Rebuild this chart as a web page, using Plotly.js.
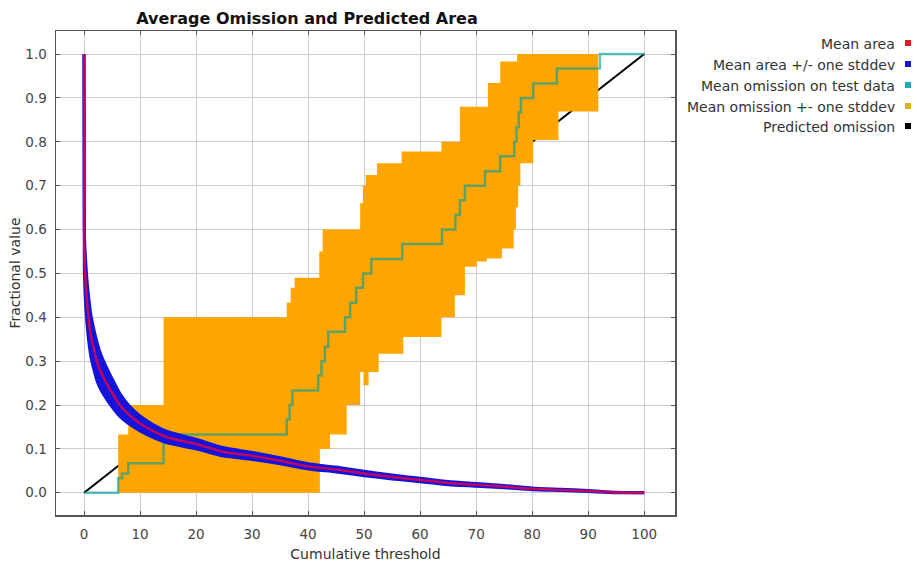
<!DOCTYPE html>
<html>
<head>
<meta charset="utf-8">
<script src="https://cdn.plot.ly/plotly-3.0.1.min.js"></script>
<style>html,body{margin:0;padding:0;background:#fff;}#chart{width:917px;height:565px;}</style>
</head>
<body>
<div id="chart"></div>
<script>
// ---- data ----
// Mean fractional predicted area vs cumulative threshold
const areaX     = [0, 0.05, 0.2, 0.5, 0.8, 1.2, 1.7, 2.3, 3, 4, 5, 6.4, 8, 10, 12, 15, 20, 25, 30, 35, 40, 45, 50, 55, 60, 65, 70, 75, 80, 85, 90, 95, 100];
const areaMean  = [1.0, 0.56, 0.5, 0.44, 0.40, 0.36, 0.33, 0.30, 0.275, 0.25, 0.228, 0.2, 0.178, 0.158, 0.143, 0.126, 0.111, 0.093, 0.084, 0.073, 0.060, 0.053, 0.044, 0.036, 0.029, 0.022, 0.018, 0.014, 0.009, 0.0065, 0.004, 0.0005, 0.0];
const areaUpper = [1.0, 0.605, 0.55, 0.49, 0.45, 0.408, 0.376, 0.344, 0.315, 0.286, 0.26, 0.226, 0.199, 0.175, 0.158, 0.139, 0.122, 0.1025, 0.092, 0.080, 0.066, 0.0585, 0.049, 0.0405, 0.033, 0.0255, 0.021, 0.0165, 0.011, 0.008, 0.0052, 0.0009, 0.0];
const areaLower = [1.0, 0.515, 0.45, 0.39, 0.35, 0.312, 0.284, 0.256, 0.235, 0.214, 0.196, 0.174, 0.157, 0.141, 0.128, 0.113, 0.100, 0.0835, 0.076, 0.066, 0.054, 0.0475, 0.039, 0.0315, 0.025, 0.0185, 0.015, 0.0115, 0.007, 0.005, 0.0028, 0.0001, 0.0];

// Mean omission on test data (step function)
const omissionX    = [0, 6.1, 6.8, 7.9, 14.2, 36.2, 36.7, 37.2, 41.8, 42.4, 43.0, 43.6, 46.6, 47.5, 48.6, 49.8, 51.3, 56.8, 63.9, 66.3, 67.1, 68.0, 71.6, 74.3, 76.8, 77.2, 77.6, 78.0, 80.2, 84.4, 92.1, 100];
const omissionMean = [0, 0.033, 0.044, 0.067, 0.133, 0.167, 0.2, 0.233, 0.267, 0.3, 0.333, 0.367, 0.4, 0.433, 0.467, 0.5, 0.533, 0.567, 0.6, 0.633, 0.667, 0.7, 0.733, 0.767, 0.8, 0.833, 0.867, 0.9, 0.933, 0.967, 1.0, 1.0];

// Mean omission +- one stddev (upper / lower step edges)
const omUpperX = [6.1, 7.9, 14.2, 36.2, 36.9, 37.6, 42.0, 42.6, 49.3, 49.8, 50.3, 52.3, 56.7, 63.8, 67.1, 72.1, 74.3, 77.3, 100];
const omUpper  = [0.133, 0.2, 0.4, 0.433, 0.467, 0.49, 0.55, 0.6, 0.66, 0.70, 0.724, 0.751, 0.778, 0.80, 0.88, 0.934, 0.983, 1.0, 1.0];
const omLowerX = [6.1, 42.1, 43.9, 46.9, 49.3, 49.9, 50.8, 52.6, 57.0, 63.8, 66.2, 68.0, 70.1, 71.9, 74.6, 76.7, 77.1, 77.5, 77.9, 80.2, 84.7, 91.8, 100];
const omLower  = [0, 0.10, 0.133, 0.2, 0.275, 0.245, 0.275, 0.317, 0.355, 0.40, 0.45, 0.515, 0.527, 0.534, 0.557, 0.6, 0.65, 0.7, 0.751, 0.804, 0.869, 1.0, 1.0];

// Predicted omission
const predX = [0, 100];
const predY = [0, 1];

const legendLabels = ["Mean area", "Mean area +/- one stddev", "Mean omission on test data", "Mean omission +- one stddev", "Predicted omission"];
const xTickVals = [0, 10, 20, 30, 40, 50, 60, 70, 80, 90, 100];
const yTickVals = [0.0, 0.1, 0.2, 0.3, 0.4, 0.5, 0.6, 0.7, 0.8, 0.9, 1.0];

// ---- styles ----
const C_ORANGE = '#FFA500';
const C_TEAL = 'rgba(0,160,160,0.62)';
const C_BLUE = '#1414dc';
const C_RED = 'rgba(255,0,50,0.72)';
const legendColors = ['#e01b24', '#1414c8', '#22aabb', '#ddb315', '#000000'];

const traces = [
  {x: predX, y: predY, mode: 'lines', line: {color: '#000', width: 2}, hoverinfo: 'skip'},
  {x: omLowerX, y: omLower, mode: 'lines', line: {color: C_ORANGE, width: 0, shape: 'hv'}, hoverinfo: 'skip'},
  {x: omUpperX, y: omUpper, mode: 'lines', line: {color: C_ORANGE, width: 0, shape: 'hv'}, fill: 'tonexty', fillcolor: C_ORANGE, hoverinfo: 'skip'},
  {x: omissionX, y: omissionMean, mode: 'lines', line: {color: C_TEAL, width: 2.5, shape: 'hv'}},
  {x: areaX, y: areaLower, mode: 'lines', line: {color: C_BLUE, width: 3, shape: 'spline', smoothing: 0.6}},
  {x: areaX, y: areaUpper, mode: 'lines', line: {color: C_BLUE, width: 3, shape: 'spline', smoothing: 0.6}, fill: 'tonexty', fillcolor: C_BLUE},
  {x: areaX, y: areaMean, mode: 'lines', line: {color: C_RED, width: 2.5, shape: 'spline', smoothing: 0.6}}
];

// plot area in pixels: left 56, right 675, top 31, bottom 515
const L = 56, R = 675, T = 31, B = 515;
const pw = R - L, ph = B - T;
const px2x = p => (p - L) / pw;
const py2y = p => (B - p) / ph;

const rowY = [44, 65, 86, 107, 127];
const annotations = legendLabels.map((t, i) => ({
  text: t, xref: 'paper', yref: 'paper', x: px2x(897), y: py2y(rowY[i]),
  xanchor: 'right', yanchor: 'middle', showarrow: false,
  font: {family: 'DejaVu Sans', size: 14, color: '#333'}
}));
const shapes = legendColors.map((c, i) => ({
  type: 'rect', xref: 'paper', yref: 'paper',
  x0: px2x(905), x1: px2x(911), y0: py2y(rowY[i] + 2), y1: py2y(rowY[i] - 4),
  fillcolor: c, line: {width: 0}
}));

const axisCommon = {
  showgrid: true, gridcolor: '#cbcbd3', gridwidth: 1,
  zeroline: false, showline: true, linecolor: '#555', linewidth: 1.5,
  mirror: 'ticks', ticks: 'inside', ticklen: 4, tickcolor: '#555', tickwidth: 1,
  tickfont: {family: 'DejaVu Sans', size: 13.5, color: '#444'}
};

const layout = {
  width: 917, height: 565,
  margin: {l: L, r: 917 - R, t: T, b: 565 - B, pad: 0},
  paper_bgcolor: '#fff', plot_bgcolor: '#fff',
  showlegend: false,
  title: {text: 'Average Omission and Predicted Area', xref: 'container', yref: 'container',
          x: 307 / 917, xanchor: 'center', y: 1 - 18 / 565, yanchor: 'middle',
          font: {family: 'DejaVu Sans', size: 16, color: '#111', weight: 'bold'}},
  xaxis: Object.assign({}, axisCommon, {
    range: [-5, 105.5], tickvals: xTickVals, ticktext: xTickVals.map(String),
    ticklabelstandoff: 6,
    title: {text: 'Cumulative threshold', standoff: 8, font: {family: 'DejaVu Sans', size: 14, color: '#333'}}
  }),
  yaxis: Object.assign({}, axisCommon, {
    range: [-0.0507, 1.0525], tickvals: yTickVals, ticktext: yTickVals.map(v => v.toFixed(1)),
    ticklabelstandoff: 5,
    title: {text: 'Fractional value', standoff: 1, font: {family: 'DejaVu Sans', size: 14, color: '#333'}}
  }),
  annotations: annotations,
  shapes: shapes
};

Plotly.newPlot('chart', traces, layout, {staticPlot: true, displayModeBar: false});
</script>
</body>
</html>
